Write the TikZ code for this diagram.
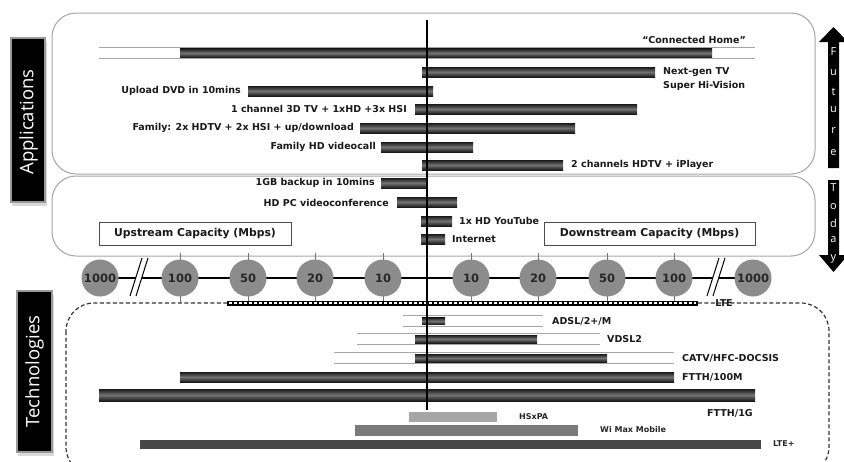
\documentclass[tikz,border=0pt]{standalone}
\usepackage{fontspec}
\setmainfont{DejaVu Sans}
\newfontfamily\osans{Open Sans}
\tikzset{
  frame/.style={draw=black!35, line width=1pt, rounded corners=24pt},
  dkbar/.style={top color=black!90, bottom color=black!90, middle color=black!55},
  ltline/.style={draw=black!35, line width=0.9pt},
  lbl/.style={font=\bfseries\fontsize{9.5}{11}\selectfont, text=black!90, inner sep=0pt},
  slbl/.style={font=\bfseries\fontsize{8}{9.5}\selectfont, text=black!85, inner sep=0pt},
  capbox/.style={draw=black!70, line width=1pt, fill=white, minimum height=23pt, inner sep=0pt, font=\bfseries\fontsize{10.8}{12}\selectfont, text=black!90},
  ball/.style={circle, fill=black!45, minimum size=37pt, inner sep=0pt, font=\bfseries\fontsize{11.5}{13}\selectfont, text=black!85},
  tickline/.style={draw=black!55, line width=0.9pt},
  sidetxt/.style={text=white, font=\osans\fontsize{18.5}{20}\selectfont, rotate=90, inner sep=0pt},
  arrowtxt/.style={text=white, font=\osans\fontsize{11}{12}\selectfont, inner sep=0pt},
  brk/.style={draw=black, line width=1pt},
}
\newcommand\dkb[4][5]{\path[dkbar] (#2,{#4-#1}) rectangle (#3,{#4+#1});}
\newcommand\ltb[4][5.5]{\fill[white] (#2,{#4-#1}) rectangle (#3,{#4+#1});
  \draw[ltline] (#2,{#4-#1}) -- (#3,{#4-#1}) (#2,{#4+#1}) -- (#3,{#4+#1});}
\begin{document}
\begin{tikzpicture}[x=1pt,y=-1pt]
\useasboundingbox (0,0) rectangle (844,461);
\clip (0,0) rectangle (844,461);
\fill[white] (0,0) rectangle (844,461);

% --- frames
\path[frame] (52,13) rectangle (815,174);
\path[frame] (52,176) rectangle (815,256);
\draw[black!80, line width=1.2pt, dash pattern=on 4pt off 2.5pt, rounded corners=28pt] (66,303) rectangle (829,475);

% --- side labels
\fill[black!15] (12,42) rectangle (47,206);
\path[fill=black, draw=black!40, line width=1.5pt] (11,38) rectangle (45,202);
\node[sidetxt] (app) at (28.5,122) {Applications};
\fill[black!15] (18,295) rectangle (54,456);
\path[fill=black, draw=black!40, line width=1.5pt] (17,291) rectangle (52,452);
\node[sidetxt] (tech) at (34.5,371.5) {Technologies};

% --- future / today arrows
\fill[black] (828,168) -- (828,42) -- (819,42) -- (833.5,27) -- (848,42) -- (839,42) -- (839,168) -- cycle;
\fill[black] (828,180) -- (828,255) -- (819,255) -- (833.5,272) -- (848,255) -- (839,255) -- (839,180) -- cycle;
\foreach \c/\yy [count=\i] in {F/52,u/73,t/92,u/110,r/130,e/153}
  \node[arrowtxt] (fut\i) at (833.5,\yy) {\c};
\foreach \c/\yy [count=\i] in {T/188,o/207,d/223,a/240,y/259}
  \node[arrowtxt] (tod\i) at (833.5,\yy) {\c};

% --- application bars
\ltb{99}{755}{53}
\dkb[4.5]{180}{712}{53}
\dkb{422}{655}{72}
\dkb{248}{433}{91}
\dkb{415}{637}{109}
\dkb{360}{575}{128}
\dkb{381}{473}{147}
\dkb{422}{563}{165}
\dkb{381}{427}{183}
\dkb{397}{457}{202}
\dkb{421}{452}{221}
\dkb{421}{445}{239}

\node[lbl] (conn) at (694,40) {“Connected Home”};
\node[lbl, anchor=west] (ngtv) at (663,72) {Next-gen TV};
\node[lbl, anchor=west] (shv) at (663,86) {Super Hi-Vision};
\node[lbl, anchor=east] (dvd) at (241,91) {Upload DVD in 10mins};
\node[lbl, anchor=east] (tv3d) at (407,109) {1 channel 3D TV + 1xHD +3x HSI};
\node[lbl, anchor=east] (fam) at (354,128) {Family: 2x HDTV + 2x HSI + up/download};
\node[lbl, anchor=east] (famhd) at (376,147) {Family HD videocall};
\node[lbl, anchor=west] (ipl) at (571,165) {2 channels HDTV + iPlayer};
\node[lbl, anchor=east] (gb) at (375,183) {1GB backup in 10mins};
\node[lbl, anchor=east] (hdpc) at (389,203) {HD PC videoconference};
\node[lbl, anchor=west] (yt) at (459,221) {1x HD YouTube};
\node[lbl, anchor=west] (inet) at (452,239) {Internet};

\node[capbox, minimum width=192pt] (up) at (195,233.5) {Upstream Capacity (Mbps)};
\node[capbox, minimum width=211pt] (down) at (649.5,233.5) {Downstream Capacity (Mbps)};

% --- scale axis
\foreach \xx in {180,248,315,383,471,538,607,674}
  \draw[tickline] (\xx,253) -- (\xx,303);
\draw[black, line width=1.8pt] (100,278) -- (753,278);
\fill[white] (142,258) -- (148,258) -- (136,296) -- (130,296) -- cycle;
\draw[brk] (142,258) -- (130,296);
\draw[brk] (148,258) -- (136,296);
\fill[white] (719,258) -- (725,258) -- (713,296) -- (707,296) -- cycle;
\draw[brk] (719,258) -- (707,296);
\draw[brk] (725,258) -- (713,296);
\foreach \xx/\t [count=\i] in {100/1000,180/100,248/50,315/20,383/10,471/10,538/20,607/50,674/100,753/1000}
  \node[ball] (c\i) at (\xx,278) {\t};

% --- LTE
\draw[black, line width=5pt] (227,303) -- (698,303);
\draw[white, line width=1.3pt, dash pattern=on 2.5pt off 2.5pt] (229,303) -- (696,303);
\node[lbl] (lte) at (724,303) {LTE};

% --- technology bars
\ltb{403}{543}{321}
\dkb[3.5]{422}{445}{321}
\ltb{357}{600}{339}
\dkb[4]{415}{537}{339}
\ltb{334}{674}{358}
\dkb[4]{415}{607}{358}
\dkb{180}{674}{377}
\dkb[6]{99}{755}{395}
\fill[black!35] (409,412) rectangle (497,422);
\fill[black!52] (355,425) rectangle (578,436);
\fill[black!72] (140,440) rectangle (761,449);

\node[lbl, anchor=west] (adsl) at (552,321) {ADSL/2+/M};
\node[lbl, anchor=west] (vdsl) at (607,339) {VDSL2};
\node[lbl, anchor=west] (catv) at (682,358) {CATV/HFC-DOCSIS};
\node[lbl, anchor=west] (f100) at (682,377) {FTTH/100M};
\node[lbl, anchor=west] (f1g) at (707,413) {FTTH/1G};
\node[slbl, anchor=west] (hsx) at (519,417) {HSxPA};
\node[slbl, anchor=west] (wimax) at (600,430) {Wi Max Mobile};
\node[slbl, anchor=west] (lteplus) at (773,444) {LTE+};

% --- central axis
\draw[black, line width=2pt] (427,20) -- (427,410);
\end{tikzpicture}
\end{document}
